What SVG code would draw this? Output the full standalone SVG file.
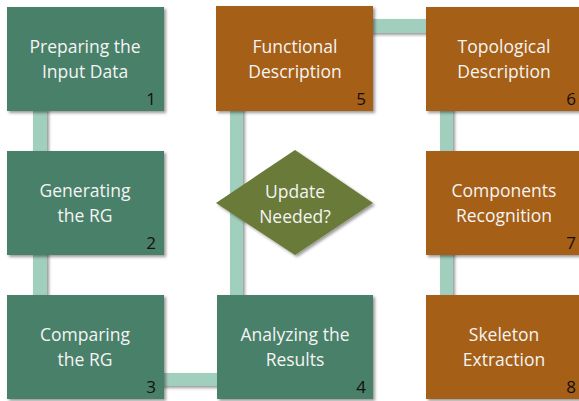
<svg xmlns="http://www.w3.org/2000/svg" width="579" height="401" viewBox="0 0 579 401">
<style>
.g{fill:#4a8069}
.o{fill:#a65e12}
.bar{fill:#a1cfbe}
.t{font-family:"Open Sans","Liberation Sans",sans-serif;font-size:17.5px;fill:#f4f4f4;text-anchor:middle}
.n{font-family:"Open Sans","Liberation Sans",sans-serif;font-size:17px;fill:#111;text-anchor:end}
</style>
<defs>
<filter id="sh" x="-20%" y="-20%" width="140%" height="140%">
<feDropShadow dx="2" dy="2" stdDeviation="1.6" flood-color="#000" flood-opacity="0.4"/>
</filter>
</defs>
<rect width="579" height="401" fill="#fff"/>
<g id="connectors" filter="url(#sh)">
<rect class="bar" x="33" y="108" width="14" height="190"/>
<rect class="bar" x="161" y="373" width="58" height="13"/>
<rect class="bar" x="230" y="108" width="13" height="190"/>
<rect class="bar" x="370" y="19" width="58" height="14"/>
<rect class="bar" x="440" y="108" width="13" height="190"/>
</g>
<g id="n1"><rect class="g" x="7" y="7" width="157" height="104" filter="url(#sh)"/><text class="t" x="85" y="53">Preparing the</text><text class="t" x="85" y="78">Input Data</text><text class="n" x="156" y="105">1</text></g>
<g id="n2"><rect class="g" x="7" y="151" width="157" height="104" filter="url(#sh)"/><text class="t" x="85" y="197">Generating</text><text class="t" x="85" y="222">the RG</text><text class="n" x="156" y="249">2</text></g>
<g id="n3"><rect class="g" x="7" y="295" width="157" height="104" filter="url(#sh)"/><text class="t" x="85" y="341">Comparing</text><text class="t" x="85" y="366">the RG</text><text class="n" x="156" y="393">3</text></g>
<g id="n4"><rect class="g" x="217" y="295" width="156" height="104" filter="url(#sh)"/><text class="t" x="295" y="341">Analyzing the</text><text class="t" x="295" y="366">Results</text><text class="n" x="366" y="393">4</text></g>
<g id="n5"><rect class="o" x="216" y="6" width="157" height="105" filter="url(#sh)"/><text class="t" x="295" y="53">Functional</text><text class="t" x="295" y="78">Description</text><text class="n" x="366" y="105">5</text></g>
<g id="n6"><rect class="o" x="426" y="7" width="157" height="104" filter="url(#sh)"/><text class="t" x="504" y="53">Topological</text><text class="t" x="504" y="78">Description</text><text class="n" x="576" y="105">6</text></g>
<g id="n7"><rect class="o" x="426" y="151" width="157" height="104" filter="url(#sh)"/><text class="t" x="504" y="197">Components</text><text class="t" x="504" y="222">Recognition</text><text class="n" x="576" y="249">7</text></g>
<g id="n8"><rect class="o" x="426" y="295" width="157" height="104" filter="url(#sh)"/><text class="t" x="504" y="341">Skeleton</text><text class="t" x="504" y="366">Extraction</text><text class="n" x="576" y="393">8</text></g>
<g id="d"><polygon points="295,150 373,203 295,255 216,203" fill="#6b7a37" filter="url(#sh)"/><text class="t" x="295" y="198">Update</text><text class="t" x="295" y="223">Needed?</text></g>
</svg>
